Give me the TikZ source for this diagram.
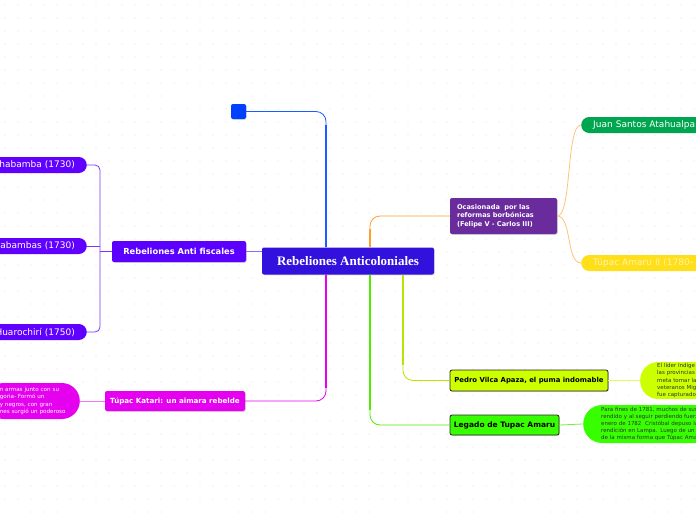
\documentclass[tikz,border=0pt]{standalone}
\usepackage{fontspec}
\setmainfont{DejaVu Sans}
\newfontfamily\titlefont{Liberation Serif}
\usetikzlibrary{shadows,calc}
\definecolor{cCentral}{RGB}{51,17,221}
\definecolor{cAF}{RGB}{91,0,255}
\definecolor{cLeaf}{RGB}{96,0,255}
\definecolor{cAFline}{RGB}{150,100,255}
\definecolor{cBlueSq}{RGB}{0,64,255}
\definecolor{cBlue}{RGB}{26,92,255}
\definecolor{cMag}{RGB}{230,0,240}
\definecolor{cMagL}{RGB}{240,120,245}
\definecolor{cOrange}{RGB}{255,160,40}
\definecolor{cOrangeL}{RGB}{255,195,120}
\definecolor{cOcas}{RGB}{106,44,156}
\definecolor{cJuan}{RGB}{0,165,80}
\definecolor{cTupac}{RGB}{255,222,26}
\definecolor{cTupacT}{RGB}{255,245,170}
\definecolor{cYG}{RGB}{204,255,0}
\definecolor{cYGL}{RGB}{220,255,90}
\definecolor{cGreen}{RGB}{55,255,0}
\definecolor{cGreenL}{RGB}{110,245,60}
\definecolor{cGreenLn}{RGB}{80,235,0}
\tikzset{
  central/.style={fill=cCentral, text=white, rounded corners=2pt, minimum width=172pt, minimum height=27pt,
    font=\titlefont\bfseries\fontsize{13}{15}\selectfont, inner sep=0pt,
    drop shadow={opacity=0.25, shadow xshift=0.8pt, shadow yshift=-0.8pt}},
  topicbox/.style={rounded corners=2pt, inner sep=0pt, font=\bfseries\fontsize{7.5}{9}\selectfont,
    drop shadow={opacity=0.3, shadow xshift=0.8pt, shadow yshift=-0.8pt}},
  pill/.style={rounded corners=8pt, inner ysep=0pt, inner xsep=12pt, minimum height=16pt,
    font=\fontsize{9}{10}\selectfont},
  bigpill/.style={rounded corners=18pt, inner ysep=0pt, font=\fontsize{5.5}{7.2}\selectfont, align=left},
  thinline/.style={line width=0.8pt},
  thickline/.style={line width=2.2pt},
}
\begin{document}
\begin{tikzpicture}[x=1pt,y=-1pt]
\useasboundingbox (0,0) rectangle (696,520);
\fill[white] (0,0) rectangle (696,520);
\clip (0,0) rectangle (696,520);
\foreach \i in {0,...,53} {\foreach \j in {0,...,40} {\fill[gray!22] (\i*13+5,\j*13+5) circle (0.55);}}

% central
\node[central] (c) at (348,261) {Rebeliones Anticoloniales};

% blue square
\node[fill=cBlueSq, rounded corners=2pt, minimum width=15pt, minimum height=15pt, inner sep=0pt,
  drop shadow={opacity=0.25, shadow xshift=0.8pt, shadow yshift=-0.8pt}] (sq) at (238.5,111.5) {};

% left topic
\node[topicbox, fill=cAF, text=white, minimum width=134pt, minimum height=21pt,
  font=\bfseries\fontsize{8.3}{10}\selectfont] (af) at (179,251.5) {Rebeliones Anti fiscales};
\node[pill, fill=cLeaf, text=white, anchor=east, text width=100pt, align=right] (l1) at (87,165) {Cochabamba (1730)};
\node[pill, fill=cLeaf, text=white, anchor=east, text width=100pt, align=right] (l2) at (87,246) {Cotabambas (1730)};
\node[pill, fill=cLeaf, text=white, anchor=east, text width=100pt, align=right] (l3) at (87,332) {Huarochirí (1750)};

% katari
\node[topicbox, fill=cMag, text=white, minimum width=140pt, minimum height=20pt,
  font=\bfseries\fontsize{7.1}{9}\selectfont] (kat) at (175,401) {Túpac Katari: un aimara rebelde};
\node[bigpill, fill=cMag, text=white, anchor=east, minimum height=36pt, inner xsep=14pt, text width=66pt,
  font=\fontsize{5.6}{7.6}\selectfont] (katp) at (80,401)
  {n armas junto con su\\goria- Formó un\\ y negros, con gran\\nes surgió un poderoso};

% ocasionada
\node[topicbox, fill=cOcas, text=white, minimum width=107pt, minimum height=36pt, align=left,
  font=\bfseries\fontsize{6.6}{8.2}\selectfont, text width=93pt] (oc) at (503.5,216)
  {Ocasionada\ \ por las\\reformas borbónicas\\(Felipe V - Carlos III)};
\node[pill, fill=cJuan, text=white, anchor=west, text width=130pt, align=left] (juan) at (581,125) {Juan Santos Atahualpa};
\node[pill, fill=cTupac, text=cTupacT, anchor=west, text width=130pt, align=left] (tup) at (581,263) {Túpac Amaru II (1780-};

% pedro
\node[topicbox, fill=cYG, text=black, draw=black!85, line width=0.8pt, minimum width=158pt, minimum height=21pt,
  font=\bfseries\fontsize{6.9}{9}\selectfont] (pe) at (529,380.5)
  {Pedro Vilca Apaza, el puma indomable};
\node[bigpill, fill=cYG, text=black!80, anchor=west, minimum height=37pt, inner xsep=17pt, text width=70pt] (pep) at (640,380.5)
  {El líder Indíge\\las provincias\\meta tomar la\\veteranos Mig\\fue capturado};

% legado
\node[topicbox, fill=cGreen, text=black, draw=black!85, line width=0.8pt, minimum width=109pt, minimum height=20pt] (le) at (504.5,425)
  {Legado de Tupac Amaru};
\node[bigpill, fill=cGreen, text=black!80, anchor=west, minimum height=38pt, inner xsep=18pt, text width=110pt, rounded corners=19pt] (lep) at (583,424)
  {Para fines de 1781, muchos de sus\\rendido y al seguir perdiendo fuerz\\enero de 1782\ \ Cristóbal depuso la\\rendición en Lampa. Luego de un\\de la misma forma que Túpac Ama};

% anchor points on the central node
\coordinate (bT) at ([xshift=-22pt]c.north);
\coordinate (oT) at ([xshift=22pt]c.north);
\coordinate (mB) at ([xshift=-22pt]c.south);
\coordinate (gB) at ([xshift=22pt]c.south);
\coordinate (yB) at ([xshift=55pt]c.south);

% connectors
\draw[cBlue, thinline, rounded corners=10pt] (bT) |- (sq.east);
\draw[cBlue, thickline] (bT) -- ($(bT)!0.9!(bT |- sq.east)$);

\draw[cOrange, thinline, rounded corners=10pt] (oT) |- (oc.west);
\draw[cOrange, thickline] (oT) -- ($(oT)!0.6!(oT |- oc.west)$);

\draw[cMag, thinline, rounded corners=10pt] (mB) |- (kat.east);
\draw[cMag, thickline] (mB) -- ($(mB)!0.9!(mB |- kat.east)$);

\draw[cGreenLn, thinline, rounded corners=10pt] (gB) |- (le.west);
\draw[cGreenLn, thickline] (gB) -- ($(gB)!0.9!(gB |- le.west)$);

\draw[cYG!90!black, thinline, rounded corners=10pt] (yB) |- (pe.west);
\draw[cYG!90!black, thickline] (yB) -- ($(yB)!0.85!(yB |- pe.west)$);

\draw[cAFline, thinline] (af.east) -- (af.east -| c.west);
\coordinate (bj) at (100,251.5);
\draw[cLeaf!80, thinline] (af.west) -- (bj);
\draw[cLeaf!80, thinline, rounded corners=5pt] (l1.east) -| (bj) |- (l3.east);
\draw[cLeaf!80, thinline] (l2.east) -- (l2.east -| bj);

\draw[cOrangeL, thinline] (oc.east) .. controls (572,216) and (566,125) .. (juan.west);
\draw[cOrangeL, thinline] (oc.east) .. controls (572,216) and (566,263) .. (tup.west);

\draw[cMagL, thinline] (kat.west) -- (katp.east);
\draw[cYGL, thinline] (pe.east) -- (pep.west);
\draw[cGreenL, thinline] (le.east) -- (lep.west);
\end{tikzpicture}
\end{document}
